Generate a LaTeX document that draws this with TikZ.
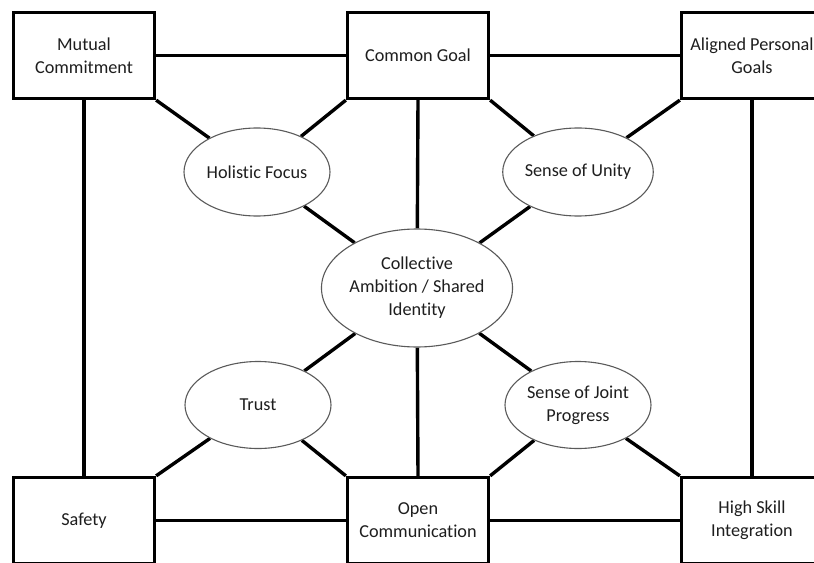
\documentclass[tikz,border=0pt]{standalone}
\usepackage{fontspec}
\setmainfont[Ligatures={TeX,NoCommon}]{Carlito}
\usetikzlibrary{shapes.geometric,backgrounds}
\definecolor{txt}{HTML}{1E1E1E}
\definecolor{ellline}{HTML}{5A5A5A}
\begin{document}
\begin{tikzpicture}[x=1bp,y=-1bp,
  every node/.style={font=\fontsize{18.3}{23}\selectfont, text=txt, align=center},
  sqbox/.style={draw=black, line width=3.3bp, fill=white, rectangle, minimum width=141bp, minimum height=86bp, inner sep=0pt},
  oval/.style={draw=ellline, line width=1.1bp, fill=white, ellipse, inner sep=0pt},
  link/.style={line width=3.4bp, draw=black}
]
\useasboundingbox (0,0) rectangle (814,563);
\clip (0,0) rectangle (814,563);
% boxes
\node[sqbox] (mc) at (84,55.5) {Mutual\\Commitment};
\node[sqbox] (cg) at (418,55.5) {Common Goal};
\node[sqbox] (ap) at (752,55.5) {Aligned Personal\\Goals};
\node[sqbox] (sf) at (84,520.5) {Safety};
\node[sqbox] (oc) at (418,520.5) {Open\\Communication};
\node[sqbox] (hs) at (752,520.5) {High Skill\\Integration};
% ellipses
\node[oval, minimum width=146bp, minimum height=88bp] (hf) at (257,172) {Holistic Focus};
\node[oval, minimum width=147bp, minimum height=88bp] (su) at (578,172) {Sense of Unity};
\node[oval, minimum width=177bp, minimum height=118bp] (ca) at (417,288) {Collective\\Ambition / Shared\\Identity};
\node[oval, minimum width=146bp, minimum height=87bp] (tr) at (258,405) {Trust};
\node[oval, minimum width=146bp, minimum height=87bp] (jp) at (578,405) {Sense of Joint\\Progress};
\begin{pgfonlayer}{background}
\clip (0,0) rectangle (814,563);
% horizontal links
\draw[link] (mc.east) -- (cg.west);
\draw[link] (cg.east) -- (ap.west);
\draw[link] (sf.east) -- (oc.west);
\draw[link] (oc.east) -- (hs.west);
% vertical links
\draw[link] (mc.south) -- (sf.north);
\draw[link] (ap.south) -- (hs.north);
\draw[link] (cg.south) -- (ca);
\draw[link] (ca) -- (oc.north);
% diagonals
\draw[link] (mc.south east) -- (hf);
\draw[link] (cg.south west) -- (hf);
\draw[link] (cg.south east) -- (su);
\draw[link] (ap.south west) -- (su);
\draw[link] (hf) -- (ca);
\draw[link] (su) -- (ca);
\draw[link] (ca) -- (tr);
\draw[link] (ca) -- (jp);
\draw[link] (tr) -- (sf.north east);
\draw[link] (tr) -- (oc.north west);
\draw[link] (jp) -- (oc.north east);
\draw[link] (jp) -- (hs.north west);
\end{pgfonlayer}
\end{tikzpicture}
\end{document}
